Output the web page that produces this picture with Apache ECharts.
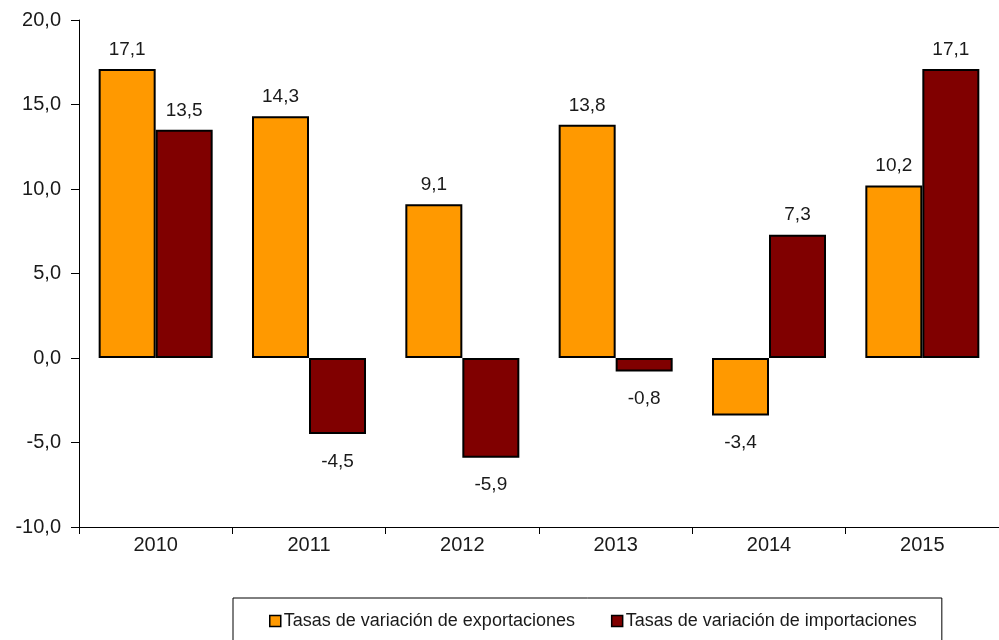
<!DOCTYPE html>
<html>
<head>
<meta charset="utf-8">
<script src="https://cdn.jsdelivr.net/npm/echarts@6/dist/echarts.min.js"></script>
<style>
  html, body { margin: 0; padding: 0; background: #fff; }
  #chart { width: 999px; height: 640px; }
</style>
</head>
<body>
<div id="chart"></div>
<script>
const years = ['2010', '2011', '2012', '2013', '2014', '2015']
const exportaciones = [17.1, 14.3, 9.1, 13.8, -3.4, 10.2]
const importaciones = [13.5, -4.5, -5.9, -0.8, 7.3, 17.1]
const seriesNames = ['Tasas de variación de exportaciones', 'Tasas de variación de importaciones']
const colors = ['#FF9900', '#800000']

const fmt = v => v.toFixed(1).replace('.', ',')
const font = 'Liberation Sans, Arial, sans-serif'
const textColor = '#1a1a1a'

const chart = echarts.init(document.getElementById('chart'))

const makeSeries = (name, data, color) => ({
  name,
  type: 'bar',
  xAxisIndex: 0,
  barWidth: 57,
  barGap: '0%',
  itemStyle: { color, borderColor: '#000', borderWidth: 2 },
  label: {
    show: true,
    fontFamily: font,
    fontSize: 19,
    color: textColor,
    formatter: p => fmt(p.value),
  },
  data: data.map(v => ({
    value: v,
    label: v >= 0 ? { position: 'top', distance: 10 } : { position: 'bottom', distance: 18 },
  })),
})

const option = {
  backgroundColor: '#fff',
  animation: false,
  grid: { left: 79, right: -11, top: 20, bottom: 113 },
  legend: {
    left: 233,
    top: 598,
    padding: [14, 25, 22, 36],
    borderColor: '#000',
    borderWidth: 1,
    itemWidth: 11,
    itemHeight: 11,
    itemGap: 36,
    textStyle: { fontFamily: font, fontSize: 18, color: textColor, padding: [0, 0, 0, -2] },
    data: seriesNames.map(n => ({ name: n, icon: 'rect', itemStyle: { borderColor: '#000', borderWidth: 1.5 } })),
  },
  xAxis: [
    {
      type: 'category',
      data: years,
      axisLine: { show: false },
      axisTick: { show: false },
      axisLabel: { fontFamily: font, fontSize: 20, color: textColor, margin: 8 },
    },
    {
      type: 'category',
      data: years,
      position: 'bottom',
      axisLine: { onZero: true, lineStyle: { color: '#000', width: 1 } },
      axisTick: { show: true, length: 7, lineStyle: { color: '#000' } },
      axisLabel: { show: false },
    },
  ],
  yAxis: {
    type: 'value',
    min: -10,
    max: 20,
    interval: 5,
    axisLine: { show: true, lineStyle: { color: '#000', width: 1 } },
    axisTick: { show: true, length: 8, lineStyle: { color: '#000' } },
    splitLine: { show: false },
    axisLabel: { fontFamily: font, fontSize: 20, color: textColor, margin: 18, formatter: fmt },
  },
  series: [
    makeSeries(seriesNames[0], exportaciones, colors[0]),
    makeSeries(seriesNames[1], importaciones, colors[1]),
  ],
}

chart.setOption(option)
</script>
</body>
</html>
